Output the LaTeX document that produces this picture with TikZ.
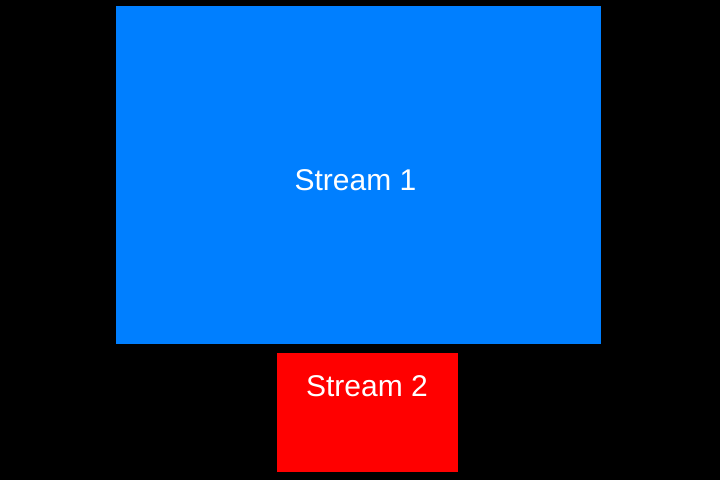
\documentclass[tikz,border=0pt]{standalone}
\usepackage{fontspec}
\setmainfont{Liberation Sans}
\usepackage{xcolor}
\definecolor{streamblue}{HTML}{007FFF}
\definecolor{streamred}{HTML}{FF0000}
\tikzset{
  streambox/.style={inner sep=0pt,outer sep=0pt,draw=none},
  streamlabel/.style={white,anchor=base,inner sep=0pt,font=\fontsize{30}{36}\selectfont}
}

\begin{document}
\begin{tikzpicture}[x=1pt,y=-1pt]
		%background
		\fill[black] (0,0) rectangle (720,480);
		\useasboundingbox (0,0) rectangle (720,480);
		%first stream
		\node[streambox,fill=streamblue,minimum width=485pt,minimum height=338pt] (s1) at (358.5,175) {};
		%second stream
		\node[streambox,fill=streamred,minimum width=181pt,minimum height=119pt] (s2) at (367.5,412.5) {};
		
		%nodes
		\node[streamlabel] (l1) at (355.5,190) {Stream 1};
		\node[streamlabel] (l2) at (367,396) {Stream 2};
	\end{tikzpicture}
\end{document}
